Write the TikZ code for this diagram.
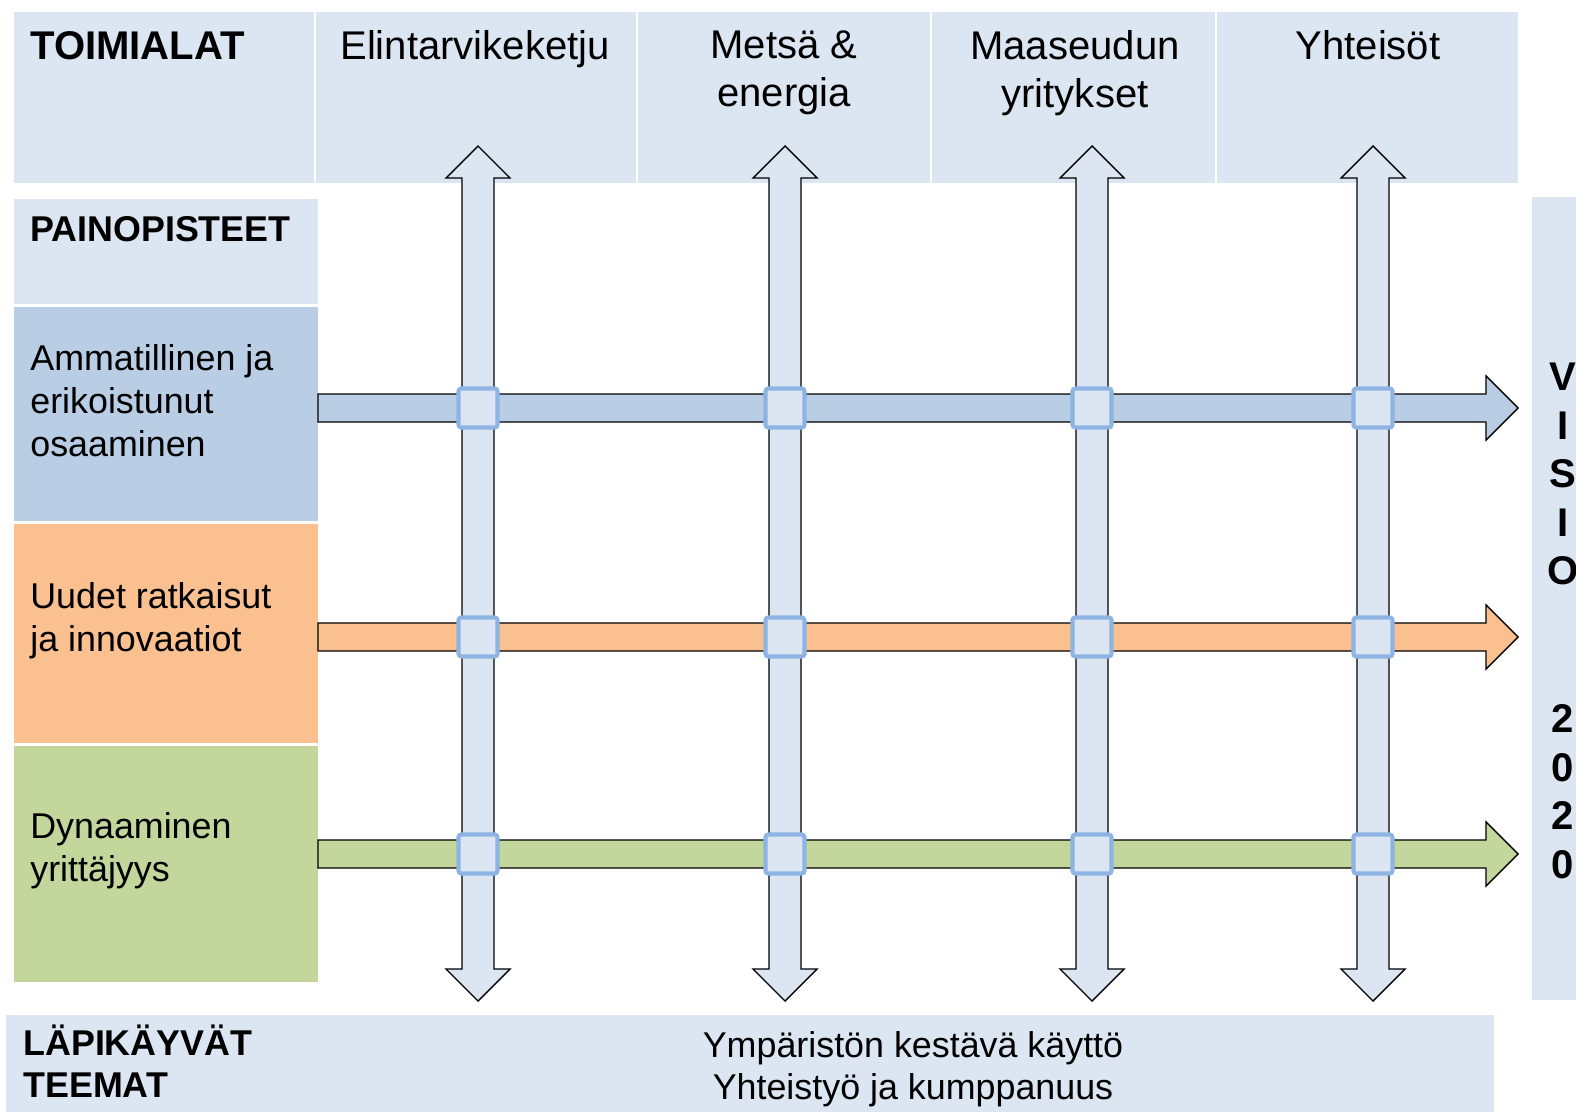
\documentclass[tikz,border=0pt]{standalone}
\usepackage{fontspec}
\setmainfont{Liberation Sans}
\usetikzlibrary{positioning}

\definecolor{bandblue}{HTML}{DCE6F2}
\definecolor{rowblue}{HTML}{B9CDE5}
\definecolor{roworange}{HTML}{FAC090}
\definecolor{rowgreen}{HTML}{C3D69B}
\definecolor{crossblue}{HTML}{8DB4E2}

\begin{document}
\begin{tikzpicture}[x=0.02cm, y=-0.02cm,
    band/.style={fill=bandblue},
    colhead/.style={font=\fontsize{22.8}{27.3}\selectfont, align=center,
       anchor=north, inner sep=0pt},
    rowlabel/.style={font=\fontsize{20.4}{24.5}\selectfont, align=left,
       anchor=north west, inner sep=0pt},
    heading/.style={rowlabel, font=\fontsize{20.4}{24.5}\selectfont\bfseries},
    blockarrow/.style={draw=black, line width=0.8pt, line join=miter},
    crossing/.style={draw=crossblue, line width=2.3pt, fill=bandblue,
       rounded corners=1.5pt}]
   \useasboundingbox (0,0) rectangle (1576,1112);

   % header band
   \fill[band] (14,12) rectangle (314,183);
   \fill[band] (316,12) rectangle (636,183);
   \fill[band] (638,12) rectangle (930,183);
   \fill[band] (932,12) rectangle (1215,183);
   \fill[band] (1217,12) rectangle (1518,183);

   % left column
   \fill[band] (14,199) rectangle (318,304);
   \fill[rowblue] (14,307) rectangle (318,521);
   \fill[roworange] (14,524) rectangle (318,743);
   \fill[rowgreen] (14,746) rectangle (318,982);

   % bottom and right bands
   \fill[band] (6,1015) rectangle (1494,1112);
   \fill[band] (1532,197) rectangle (1576,1000);

   % vertical arrows
   \foreach \x in {478,785,1092,1373}
      \draw[blockarrow, fill=bandblue]
         (\x-16,178) -- (\x-32,178) -- (\x,146) -- (\x+32,178) -- (\x+16,178)
         -- (\x+16,969) -- (\x+32,969) -- (\x,1001) -- (\x-32,969)
         -- (\x-16,969) -- cycle;

   % horizontal arrows
   \foreach \y/\c in {408/rowblue,637/roworange,854/rowgreen}
      \draw[blockarrow, fill=\c]
         (318,\y-14) -- (1486,\y-14) -- (1486,\y-32) -- (1518,\y)
         -- (1486,\y+32) -- (1486,\y+14) -- (318,\y+14) -- cycle;

   % crossings
   \foreach \x in {478,785,1092,1373}
      \foreach \y in {408,637,854}
         \draw[crossing] (\x-19.5,\y-19.5) rectangle (\x+19.5,\y+19.5);

   % texts
   \node (toimialat) at (30,31) [heading, font=\fontsize{22.8}{27.3}\selectfont\bfseries] {TOIMIALAT};
   \node (elintarvike) at (475,30) [colhead] {Elintarvikeketju};
   \node (metsa) at (784,30) [colhead] {Metsä \&\\energia};
   \node (maaseutu) at (1075,30) [colhead] {Maaseudun\\yritykset};
   \node (yhteisot) at (1368,30) [colhead] {Yhteisöt};

   \node (painopisteet) at (30,216) [heading] {PAINOPISTEET};
   \node (osaaminen) at (30,344) [rowlabel] {Ammatillinen ja\\erikoistunut\\osaaminen};
   \node (innovaatiot) at (30,582) [rowlabel] {Uudet ratkaisut\\ja innovaatiot};
   \node (yrittajyys) at (30,812) [rowlabel] {Dynaaminen\\yrittäjyys};

   \node (teemat) at (23,1025) [heading, font=\fontsize{20.4}{23.9}\selectfont\bfseries] {LÄPIKÄYVÄT\\TEEMAT};
   \node (teemalista) at (913,1031) [colhead, font=\fontsize{20.4}{23.9}\selectfont]
      {Ympäristön kestävä käyttö\\Yhteistyö ja kumppanuus};

   \node (visio) at (1563,363) [colhead, font=\fontsize{22.8}{27.6}\selectfont\bfseries]
      {V\\I\\S\\I\\O\\[56.5pt]2\\0\\2\\0};
\end{tikzpicture}
\end{document}
